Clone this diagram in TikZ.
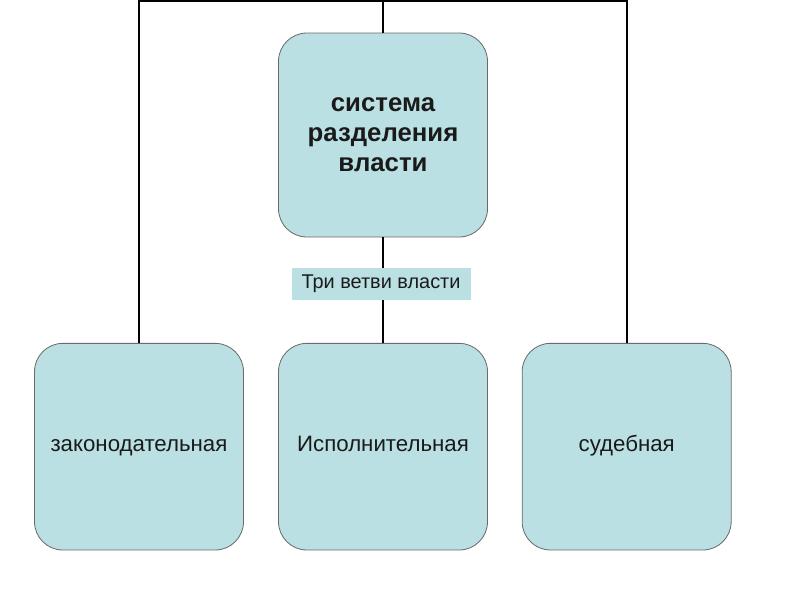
\documentclass[tikz,border=0pt]{standalone}
\usepackage{fontspec}
\setmainfont{Liberation Sans}
\definecolor{branchfill}{HTML}{BBE0E3}
\definecolor{branchedge}{HTML}{6A6A6A}
\definecolor{ink}{HTML}{1A1A1A}
\tikzset{
    branch/.style={draw=branchedge,line width=0.7pt,fill=branchfill,rounded corners=0.85cm,
        minimum width=6.27cm,minimum height=6.2cm,align=center,inner sep=0pt,text=ink},
    power/.style={branch,font=\fontsize{19}{22}\selectfont,text height=2.2ex,text depth=0.6ex},
    tie/.style={line width=1.6pt,black},
    tag/.style={fill=branchfill,minimum width=5.37cm,minimum height=0.96cm,inner sep=0pt,text=ink,
        font=\fontsize{17}{20}\selectfont,text height=2.2ex,text depth=0.6ex}
}
\begin{document}
\begin{tikzpicture}
    \useasboundingbox (0,0) rectangle (24,-18);
    %% main box
    \node[branch,minimum height=6.12cm,font=\fontsize{22}{25.5}\selectfont\bfseries] (sys) at (11.49,-4.05)
        {система\\разделения\\власти};
    %% three branches
    \node[power] (leg) at (4.17,-13.4) {законодательная};
    \node[power] (exe) at (11.49,-13.4) {Исполнительная};
    \node[power] (jud) at (18.8,-13.4) {судебная};
    %% wires
    \coordinate (top) at (11.49,-0.04);
    \draw[tie] (leg.north) |- (top) -| (jud.north);
    \draw[tie] (sys.north) -- (top);
    \draw[tie] (sys.south) -- (exe.north);
    \node[tag] (lbl) at (11.43,-8.52) {Три ветви власти};
\end{tikzpicture}
\end{document}
